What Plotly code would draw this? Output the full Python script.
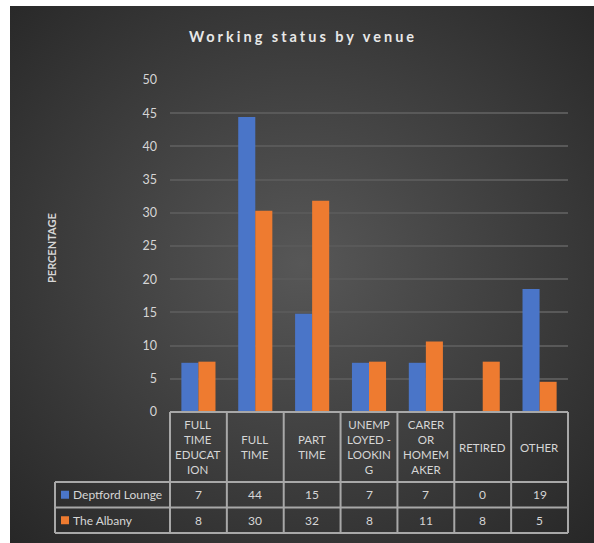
import base64
import plotly.graph_objects as go

# ---- data -------------------------------------------------------------
categories = ["FULL TIME EDUCATION", "FULL TIME", "PART TIME", "UNEMPLOYED - LOOKING",
              "CARER OR HOMEMAKER", "RETIRED", "OTHER"]
# header labels as wrapped in the table under the axis
category_labels = ["FULL<br>TIME<br>EDUCAT<br>ION", "FULL<br>TIME", "PART<br>TIME",
                   "UNEMP<br>LOYED -<br>LOOKIN<br>G", "CARER<br>OR<br>HOMEM<br>AKER",
                   "RETIRED", "OTHER"]
series_names = ["Deptford Lounge", "The Albany"]
deptford = [7.41, 44.44, 14.81, 7.41, 7.41, 0.0, 18.52]
albany = [7.58, 30.30, 31.82, 7.58, 10.61, 7.58, 4.55]
y_ticks = [0, 5, 10, 15, 20, 25, 30, 35, 40, 45, 50]

# ---- page geometry (pixels) -------------------------------------------
W, H = 594, 543
L, R, T, B = 170, 568, 80, 412          # plot area
PW, PH = R - L, B - T

def px_x(x):
    return (x - L) / PW

def px_y(y):
    return (B - y) / PH

def cat_x(i):
    # paper x of a category centre / boundary (i may be fractional)
    return (i + 0.5) / len(categories)

BLUE = "#4a75c8"
ORANGE = "#ee7b30"
TEXT = "#d6d6d6"
GRID = "#595959"
BORDER = "#a8a8a8"
FONT = "Lato"

fig = go.Figure()
fig.add_trace(go.Bar(x=categories, y=deptford, name=series_names[0],
                     marker=dict(color=BLUE, line=dict(width=0))))
fig.add_trace(go.Bar(x=categories, y=albany, name=series_names[1],
                     marker=dict(color=ORANGE, line=dict(width=0))))

# radial-gradient dark background
svg = ('<svg xmlns="http://www.w3.org/2000/svg" width="584" height="537" '
       'viewBox="0 0 584 537" preserveAspectRatio="none">'
       '<defs><radialGradient id="g" cx="50%" cy="48%" r="72%">'
       '<stop offset="0" stop-color="#575757"/>'
       '<stop offset="1" stop-color="#272727"/></radialGradient></defs>'
       '<rect width="584" height="537" fill="url(#g)"/></svg>')
src = "data:image/svg+xml;base64," + base64.b64encode(svg.encode()).decode()
fig.add_layout_image(dict(source=src, xref="paper", yref="paper",
                          x=px_x(10), y=px_y(6), sizex=(W - 10) / PW, sizey=(H - 6) / PH,
                          xanchor="left", yanchor="top", sizing="stretch", layer="below"))

shapes = []
annotations = []

def hline(y, x0, x1, w=2):
    shapes.append(dict(type="line", xref="paper", yref="paper", x0=x0, x1=x1, y0=y, y1=y,
                       line=dict(color=BORDER, width=w)))

def vline(x, y0, y1, w=2):
    shapes.append(dict(type="line", xref="paper", yref="paper", x0=x, x1=x, y0=y0, y1=y1,
                       line=dict(color=BORDER, width=w)))

# data table under the chart
row_edges = [px_y(412), px_y(482), px_y(507.5), px_y(533)]
left_edge = px_x(55)
hline(row_edges[0], 0, 1)
for y in row_edges[1:]:
    hline(y, left_edge, 1)
vline(left_edge, row_edges[1], row_edges[3])
for i in range(len(categories) + 1):
    vline(cat_x(i - 0.5), row_edges[0], row_edges[3])

head_mid = (row_edges[0] + row_edges[1]) / 2
for i, lab in enumerate(category_labels):
    annotations.append(dict(xref="paper", yref="paper", x=cat_x(i), y=head_mid, text=lab,
                            showarrow=False, xanchor="center", yanchor="middle",
                            font=dict(family=FONT, size=11.5, color=TEXT)))

for r, (name, vals, col) in enumerate([(series_names[0], deptford, BLUE),
                                       (series_names[1], albany, ORANGE)]):
    mid = (row_edges[r + 1] + row_edges[r + 2]) / 2
    # legend key
    shapes.append(dict(type="rect", xref="paper", yref="paper",
                       x0=px_x(61), x1=px_x(69), y0=mid - 4 / PH, y1=mid + 4 / PH,
                       fillcolor=col, line=dict(width=0)))
    annotations.append(dict(xref="paper", yref="paper", x=px_x(71), y=mid, text=name,
                            showarrow=False, xanchor="left", yanchor="middle",
                            font=dict(family=FONT, size=12, color=TEXT)))
    for i, v in enumerate(vals):
        annotations.append(dict(xref="paper", yref="paper", x=cat_x(i), y=mid,
                                text=str(int(v + 0.5)), showarrow=False,
                                xanchor="center", yanchor="middle",
                                font=dict(family=FONT, size=12, color=TEXT)))

# y-axis title
annotations.append(dict(xref="paper", yref="paper", x=px_x(51), y=px_y(248),
                        text="<b>PERCENTAGE</b>", textangle=-90, showarrow=False,
                        xanchor="center", yanchor="middle",
                        font=dict(family=FONT, size=11, color=TEXT)))

fig.update_layout(
    width=W, height=H,
    margin=dict(l=L, r=W - R, t=T, b=H - B, pad=0),
    paper_bgcolor="white", plot_bgcolor="rgba(0,0,0,0)",
    showlegend=False,
    barmode="group", bargap=0.4, bargroupgap=0,
    title=dict(text='<span style="letter-spacing:3px"><b>Working status by venue</b></span>',
               x=303 / W, xanchor="center",
               y=1 - 37 / H, yanchor="middle",
               font=dict(family=FONT, size=14.5, color="#e8e8e8")),
    xaxis=dict(range=[-0.5, len(categories) - 0.5], showticklabels=False, showgrid=False,
               zeroline=False, showline=False, ticks=""),
    yaxis=dict(range=[0, 50], tickvals=y_ticks, showgrid=True, gridcolor=GRID, gridwidth=1.5,
               zeroline=False, showline=False, ticks="", ticklabelstandoff=12,
               tickfont=dict(family=FONT, size=12.5, color=TEXT)),
    shapes=shapes, annotations=annotations,
)

fig.write_html("out.html")
